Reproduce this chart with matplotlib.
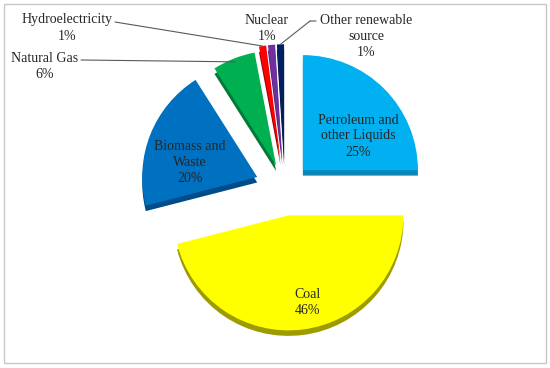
import matplotlib
matplotlib.use("Agg")
import matplotlib.pyplot as plt
import numpy as np
from matplotlib.patches import Rectangle

# ---- data ----
categories = ["Petroleum and\nother Liquids", "Coal", "Biomass and\nWaste", "Natural Gas",
              "Hydroelectricity", "Nuclear", "Other renewable\nsource"]
values = [25, 46, 20, 6, 1, 1, 1]
colors = ["#00B0F0", "#FFFF00", "#0070C0", "#00B050", "#FF0000", "#7030A0", "#002060"]
dark_colors = ["#0A86B8", "#9C9C00", "#004C88", "#007A38", "#A00000", "#4A1E70", "#001030"]
explode = [0.22, 0.24, 0.26, 0.21, 0.25, 0.25, 0.25]

W, H = 550, 368
fig = plt.figure(figsize=(W / 100, H / 100), dpi=100)
fig.patch.set_facecolor("white")
ax = fig.add_axes([0, 0, 1, 1])
ax.set_axis_off()

R = 115.0  # px per radius unit
cx, cy = 285.0, 188.0

depth = 5.5 / R
# 3D side (darker, shifted down)
ax.pie(values, colors=dark_colors, explode=explode, startangle=90, counterclock=False,
       radius=1.0, center=(0, -depth), wedgeprops=dict(linewidth=0))
wedges, _ = ax.pie(values, colors=colors, explode=explode, startangle=90, counterclock=False,
                   radius=1.0, center=(0, 0), wedgeprops=dict(linewidth=0))
ax.set_xlim(-cx / R, (W - cx) / R)
ax.set_ylim(-(H - cy) / R, cy / R)
ax.set_aspect("equal")

font = dict(family=["Liberation Serif", "DejaVu Serif"], fontsize=10, color="#262626",
            ha="center", va="center", linespacing=1.3)

def px(x, y):
    return ((x - cx) / R, (cy - y) / R)

def wedge_point(w, frac_angle, rr=1.0):
    t = np.deg2rad(w.theta1 + (w.theta2 - w.theta1) * frac_angle)
    x0, y0 = w.center
    return (x0 + rr * w.r * np.cos(t), y0 + rr * w.r * np.sin(t))

# inside labels
ax.text(*px(358, 136), f"{categories[0]}\n{values[0]}%", **font)
ax.text(*px(307, 302), f"{categories[1]}\n{values[1]}%", **font)
ax.text(*px(190, 163), f"{categories[2]}\n{values[2]}%", **font)

# outside labels with leaders
line_kw = dict(arrowstyle="-", color="#595959", lw=0.8, shrinkA=0, shrinkB=0)
ax.text(*px(45, 66), f"{categories[3]}\n{values[3]}%", **font)
ax.annotate("", xy=wedge_point(wedges[3], 0.5, 0.97), xytext=px(81, 60), arrowprops=line_kw)

ax.text(*px(67, 28), f"{categories[4]}\n{values[4]}%", **font)
ax.annotate("", xy=wedge_point(wedges[4], 0.5, 1.0), xytext=px(115, 22), arrowprops=line_kw)

ax.text(*px(267, 28), f"{categories[5]}\n{values[5]}%", **font)

ax.text(*px(366, 36), f"{categories[6]}\n{values[6]}%", **font)
p_end = wedge_point(wedges[6], 0.5, 1.0)
ax.annotate("", xy=p_end, xytext=px(310, 21), arrowprops=line_kw)
ax.annotate("", xy=px(310, 21), xytext=px(316, 21), arrowprops=line_kw)

# frame
fig.patches.append(Rectangle((4 / W, 1 - 363 / H), 542 / W, 359 / H, transform=fig.transFigure,
                             fill=False, edgecolor="#C8C8C8", linewidth=1.0))

fig.savefig("out.png", dpi=100, facecolor="white")
